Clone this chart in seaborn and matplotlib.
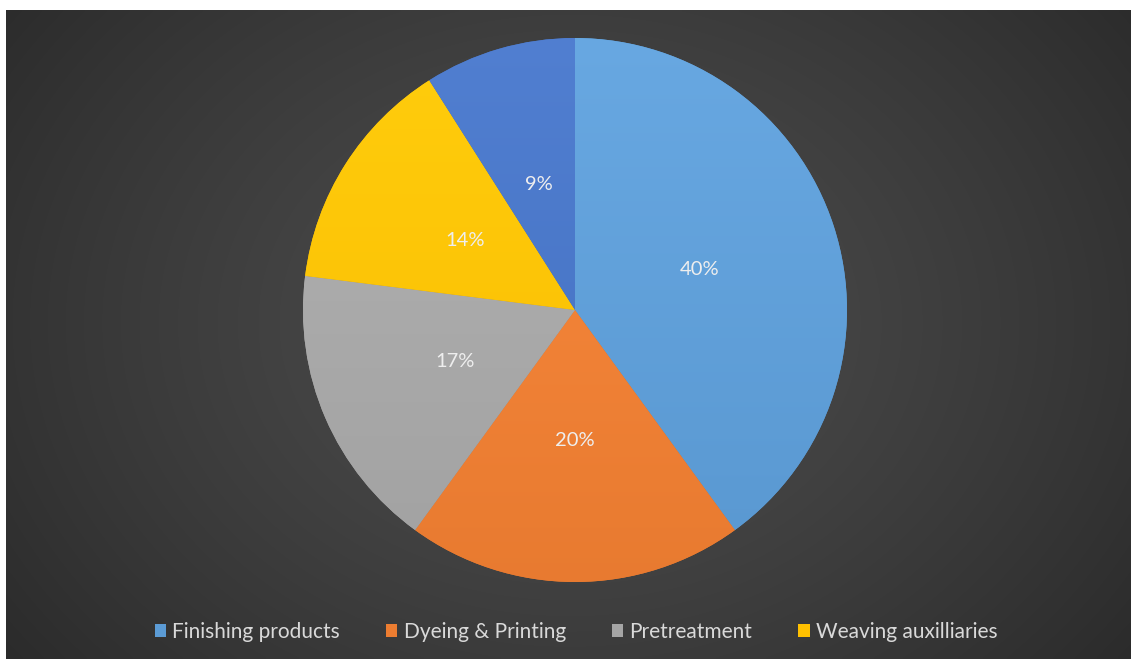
import numpy as np
import matplotlib
matplotlib.use("Agg")
import matplotlib.pyplot as plt
import matplotlib.colors as mcolors
import seaborn as sns
from matplotlib.patches import Patch

sns.set_theme(style="white")
plt.rcParams["font.family"] = ["Lato", "DejaVu Sans"]

# Market share by product group
categories = ["Finishing products", "Dyeing & Printing", "Pretreatment",
              "Weaving auxilliaries", "Others"]
shares = [40, 20, 17, 14, 9]
legend_items = categories[:4]
slice_colors = ["#5B9BD5", "#ED7D31", "#A5A5A5", "#FFC000", "#4472C4"]
palette = sns.color_palette(slice_colors)

W, H = 1131, 659
fig = plt.figure(figsize=(W / 100, H / 100), dpi=100, facecolor="white")

# dark panel with soft radial shading
bg = fig.add_axes([6 / W, 0, 1 - 6 / W, (H - 10) / H])
ny, nx = 200, 340
yy, xx = np.mgrid[0:ny, 0:nx]
cx, cy = nx * 0.5, ny * 0.48
d = np.sqrt(((xx - cx) / (nx * 0.55)) ** 2 + ((yy - cy) / (ny * 0.75)) ** 2)
lum = np.clip(0.30 - 0.11 * d ** 1.3, 0.17, 0.31)
img = np.dstack([lum, lum, lum])
bg.imshow(img, aspect="auto", extent=[0, 1, 0, 1], interpolation="bilinear")
bg.set_axis_off()

# pie
cxp, cyp, r = 575, 310, 272
ax = fig.add_axes([(cxp - r) / W, (H - cyp - r) / H, 2 * r / W, 2 * r / H])
wedges, texts, autotexts = ax.pie(
    shares, colors=palette, startangle=90, counterclock=False,
    autopct=lambda p: f"{p:.0f}%", pctdistance=0.48, radius=1.0,
    wedgeprops=dict(linewidth=0, antialiased=True),
    textprops=dict(color="#eeeeee", fontsize=14.5),
)

# gentle top-to-bottom shading inside each slice
ramp = np.linspace(0, 1, 256)[:, None]
for w, c in zip(wedges, palette):
    base = np.array(mcolors.to_rgb(c))
    top = np.clip(base + 0.05, 0, 1)
    bottom = np.clip(base * 0.98, 0, 1)
    grad = top[None, None, :] * (1 - ramp[..., None]) + bottom[None, None, :] * ramp[..., None]
    grad = np.repeat(grad, 2, axis=1)
    im = ax.imshow(grad, extent=[-1, 1, -1, 1], aspect="auto", zorder=w.get_zorder(),
                   interpolation="bilinear")
    im.set_clip_path(w)
for t in autotexts:
    t.set_zorder(5)

ax.set_xlim(-1, 1)
ax.set_ylim(-1, 1)
ax.set_aspect("equal")
ax.set_axis_off()

handles = [Patch(facecolor=palette[i], edgecolor="none") for i in range(len(legend_items))]
leg = fig.legend(handles, legend_items, loc="center", bbox_to_anchor=(576 / W, 1 - 632 / H),
                 ncol=4, frameon=False, fontsize=15, handlelength=0.55, handleheight=0.55,
                 handletextpad=0.3, columnspacing=2.2)
for t in leg.get_texts():
    t.set_color("#d9d9d9")

fig.savefig("out.png", dpi=100, facecolor="white")
